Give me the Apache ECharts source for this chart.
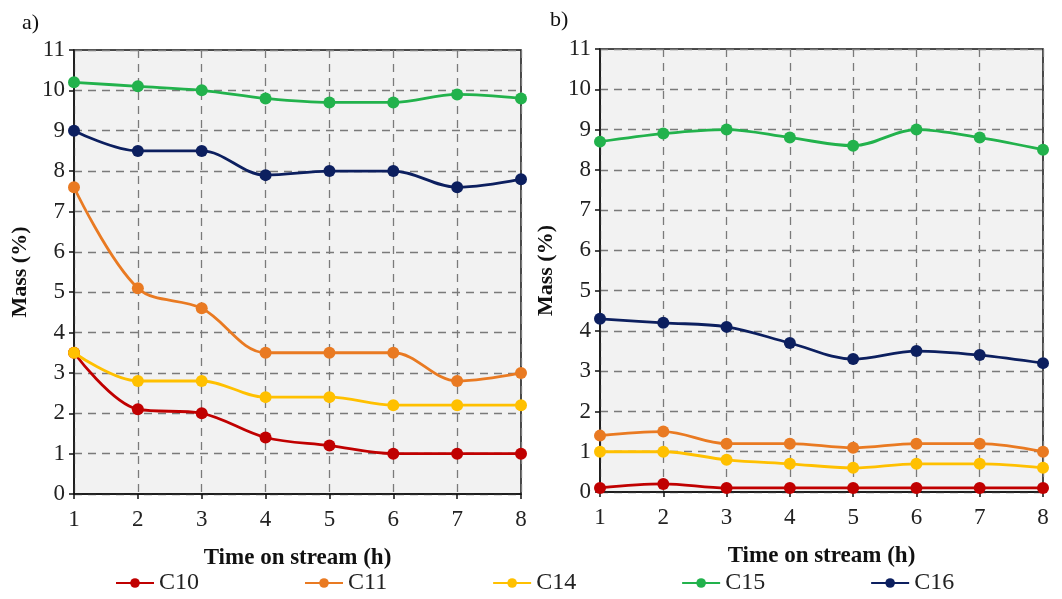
<!DOCTYPE html>
<html>
<head>
<meta charset="utf-8">
<script src="https://cdn.jsdelivr.net/npm/echarts@6/dist/echarts.min.js"></script>
<style>
  html, body { margin: 0; padding: 0; background: #fff; }
  #chart { width: 1062px; height: 599px; }
</style>
</head>
<body>
<div id="chart"></div>
<script>
// Time on stream (h)
const hours = ['1', '2', '3', '4', '5', '6', '7', '8'];
const yTicks = [0, 1, 2, 3, 4, 5, 6, 7, 8, 9, 10, 11];

// Panel a) mass fractions (%)
const aC10 = [3.5, 2.1, 2.0, 1.4, 1.2, 1.0, 1.0, 1.0];
const aC11 = [7.6, 5.1, 4.6, 3.5, 3.5, 3.5, 2.8, 3.0];
const aC14 = [3.5, 2.8, 2.8, 2.4, 2.4, 2.2, 2.2, 2.2];
const aC15 = [10.2, 10.1, 10.0, 9.8, 9.7, 9.7, 9.9, 9.8];
const aC16 = [9.0, 8.5, 8.5, 7.9, 8.0, 8.0, 7.6, 7.8];

// Panel b) mass fractions (%)
const bC10 = [0.1, 0.2, 0.1, 0.1, 0.1, 0.1, 0.1, 0.1];
const bC11 = [1.4, 1.5, 1.2, 1.2, 1.1, 1.2, 1.2, 1.0];
const bC14 = [1.0, 1.0, 0.8, 0.7, 0.6, 0.7, 0.7, 0.6];
const bC15 = [8.7, 8.9, 9.0, 8.8, 8.6, 9.0, 8.8, 8.5];
const bC16 = [4.3, 4.2, 4.1, 3.7, 3.3, 3.5, 3.4, 3.2];

const names = ['C10', 'C11', 'C14', 'C15', 'C16'];
const colors = ['#C00000', '#E97A22', '#FFC000', '#22B24C', '#0C1F5F'];

const font = 'Liberation Serif, Times New Roman, serif';

function xAxis(gridIndex) {
  return {
    type: 'category',
    gridIndex,
    data: hours,
    boundaryGap: false,
    name: 'Time on stream (h)',
    nameLocation: 'middle',
    nameGap: 53,
    nameTextStyle: { fontFamily: font, fontSize: 23, fontWeight: 'bold', color: '#111' },
    axisLine: { lineStyle: { color: '#111', width: 1.5 } },
    axisTick: { show: true, length: 5, inside: false, lineStyle: { color: '#111', width: 1.5 } },
    axisLabel: { fontFamily: font, fontSize: 23, color: '#222', margin: 14 },
    splitLine: { show: true, lineStyle: { color: '#7a7a7a', type: [8, 6], width: 1.3 } }
  };
}

function yAxis(gridIndex) {
  return {
    type: 'value',
    gridIndex,
    min: yTicks[0],
    max: yTicks[yTicks.length - 1],
    interval: 1,
    name: 'Mass (%)',
    nameLocation: 'middle',
    nameGap: 43,
    nameTextStyle: { fontFamily: font, fontSize: 22, fontWeight: 'bold', color: '#111' },
    axisLine: { show: true, lineStyle: { color: '#111', width: 1.5 } },
    axisTick: { show: true, length: 5, inside: false, lineStyle: { color: '#111', width: 1.5 } },
    axisLabel: { fontFamily: font, fontSize: 23, color: '#222', margin: 9 },
    splitLine: { show: true, lineStyle: { color: '#7a7a7a', type: [8, 6], width: 1.3 } }
  };
}

function lineSeries(name, data, idx, axisIndex) {
  return {
    name,
    type: 'line',
    xAxisIndex: axisIndex,
    yAxisIndex: axisIndex,
    data,
    smooth: 0.35,
    symbol: 'circle',
    symbolSize: 12,
    lineStyle: { color: colors[idx], width: 2.8 },
    itemStyle: { color: colors[idx] },
    z: 3 + idx
  };
}

const panelA = [aC10, aC11, aC14, aC15, aC16];
const panelB = [bC10, bC11, bC14, bC15, bC16];

const series = [];
names.forEach((n, i) => series.push(lineSeries(n, panelA[i], i, 0)));
names.forEach((n, i) => series.push(lineSeries(n, panelB[i], i, 1)));

const option = {
  backgroundColor: '#fff',
  animation: false,
  textStyle: { fontFamily: font },
  title: [
    { text: 'a)', left: 17, top: 7, textStyle: { fontFamily: font, fontSize: 22, fontWeight: 'normal', color: '#111' } },
    { text: 'b)', left: 545, top: 4, textStyle: { fontFamily: font, fontSize: 22, fontWeight: 'normal', color: '#111' } }
  ],
  grid: [
    { left: 74, right: 541, top: 50, bottom: 105, show: true, backgroundColor: '#F2F2F2', borderColor: '#111', borderWidth: 1.5 },
    { left: 600, right: 19, top: 49, bottom: 107, show: true, backgroundColor: '#F2F2F2', borderColor: '#111', borderWidth: 1.5 }
  ],
  xAxis: [xAxis(0), xAxis(1)],
  yAxis: [yAxis(0), yAxis(1)],
  legend: {
    data: names,
    left: 110,
    top: 566,
    itemWidth: 38,
    itemHeight: 12,
    itemGap: 105,
    textStyle: { fontFamily: font, fontSize: 24, color: '#222' }
  },
  series
};

const chart = echarts.init(document.getElementById('chart'), null, { renderer: 'canvas' });
chart.setOption(option);
</script>
</body>
</html>
